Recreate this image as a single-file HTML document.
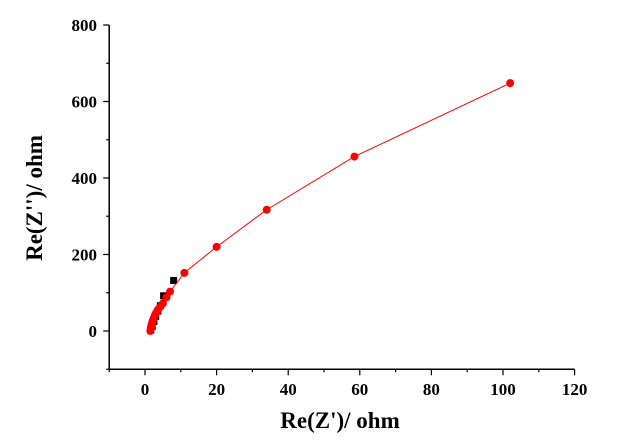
<!DOCTYPE html>
<html><head><style>
body{margin:0;background:#fff;}
text{font-family:"Liberation Serif",serif;font-weight:bold;}
</style></head><body>
<svg id="c" width="632" height="443" xmlns="http://www.w3.org/2000/svg"></svg>
<script>
const xTicks=[0,20,40,60,80,100,120];
const yTicks=[0,200,400,600,800];
const blackX=[1.6,2.0,2.5,3.0,3.6,4.3,5.2,8.0];
const blackY=[2,12,25,38,52,66,92,132];
const redX=[1.5,1.6,1.7,1.9,2.1,2.4,2.7,3.0,3.4,3.8,4.3,5.0,6.0,7.0,11,20,34,58.5,102];
const redY=[0,6,12,19,26,33,40,46,52,58,64,72,88,103,152,220,317,456,648];
const X=v=>145+(v)*3.58;
const Y=v=>331-v*0.3825;
const s=document.getElementById('c');
const NS='http://www.w3.org/2000/svg';
function mk(t,a,p){const e=document.createElementNS(NS,t);for(const k in a)e.setAttribute(k,a[k]);(p||s).appendChild(e);return e;}
// axes
let e=mk('line',{x1:X(-10),y1:Y(-100),x2:X(120),y2:Y(-100),stroke:'#000','stroke-width':1.5});


e=mk('line',{x1:X(-10),y1:Y(-100),x2:X(-10),y2:Y(800),stroke:'#000','stroke-width':1.5});


for(let v=-10;v<=120;v+=10){
 const major=v%20===0;
 e=mk('line',{x1:X(v),y1:Y(-100),x2:X(v),y2:Y(-100)+(major?6:3),stroke:'#000','stroke-width':1.2});
 
 
}
xTicks.forEach(v=>{
 const t=mk('text',{x:X(v),y:395,'text-anchor':'middle','font-size':17});
 t.textContent=v;
 
 
});
for(let v=-100;v<=800;v+=100){
 const major=v%200===0;
 e=mk('line',{x1:X(-10),y1:Y(v),x2:X(-10)-(major?6:3),y2:Y(v),stroke:'#000','stroke-width':1.2});
 
 
}
yTicks.forEach(v=>{
 const t=mk('text',{x:97,y:Y(v)+6,'text-anchor':'end','font-size':17});
 t.textContent=v;
 
 
});
let t=mk('text',{x:340,y:428,'text-anchor':'middle','font-size':23});
t.textContent="Re(Z')/ ohm";


t=mk('text',{x:0,y:0,'text-anchor':'middle','font-size':23,transform:'translate(42,198) rotate(-90)'});
t.textContent="Re(Z'')/ ohm";


// black series
blackX.forEach((v,i)=>{
 const r=mk('rect',{x:X(v)-3.5,y:Y(blackY[i])-3.5,width:7,height:7,fill:'#000'});
 
 
});
// red series
const p=mk('polyline',{points:redX.map((v,i)=>X(v)+','+Y(redY[i])).join(' '),fill:'none',stroke:'#f00','stroke-width':1});


redX.forEach((v,i)=>{
 const c=mk('circle',{cx:X(v),cy:Y(redY[i]),r:4,fill:'#f00'});
 
 
});
</script>
</body></html>
